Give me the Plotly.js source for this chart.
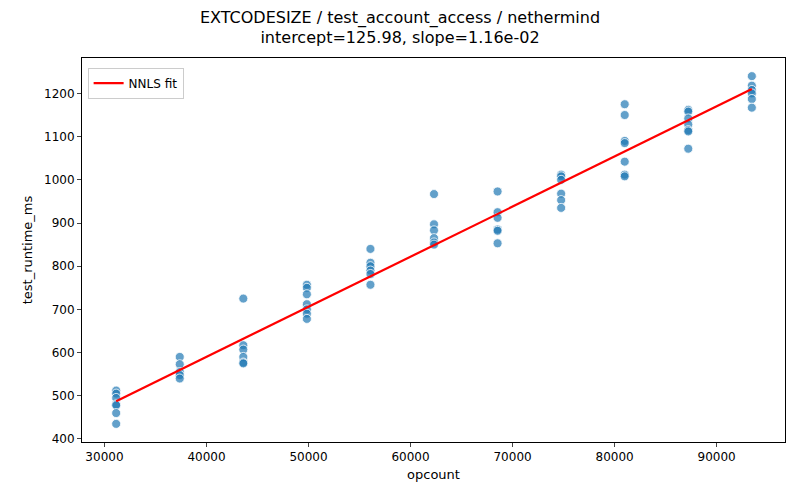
<!DOCTYPE html>
<html>
<head>
<script src="https://cdn.plot.ly/plotly-3.0.1.min.js"></script>
<style>body{margin:0}</style>
</head>
<body>
<div id="chart" style="width:800px;height:500px"></div>
<script>
// opcount groups and the measured runtimes at each
const opcounts = [31150, 37380, 43610, 49840, 56070, 62300, 68530, 74760, 80990, 87220, 93450];
const runtimes = [
  [512, 505, 495, 480, 478, 460, 435],
  [590, 573, 555, 548, 540],
  [725, 617, 607, 590, 577, 575],
  [757, 750, 735, 712, 700, 690, 678],
  [840, 808, 800, 790, 782, 757],
  [967, 897, 883, 865, 855, 850],
  [973, 925, 912, 885, 882, 853],
  [1012, 1008, 1000, 968, 953, 935],
  [1175, 1150, 1090, 1085, 1042, 1012, 1008],
  [1162, 1158, 1142, 1128, 1115, 1112, 1072],
  [1240, 1218, 1208, 1200, 1187, 1167]
];
const intercept = 125.98;
const slope = 0.0116;

let xs = [], ys = [];
opcounts.forEach(function(x, i){
  runtimes[i].forEach(function(y){ xs.push(x); ys.push(y); });
});

const xEnds = [opcounts[0], opcounts[opcounts.length - 1]];
const fitY = xEnds.map(function(x){ return intercept + slope * x; });

const data = [
  {
    x: xs, y: ys, type: 'scatter', mode: 'markers', showlegend: false,
    marker: {size: 9, color: 'rgba(31,119,180,0.7)', line: {color: 'white', width: 0.8}}
  },
  {
    x: xEnds, y: fitY, type: 'scatter', mode: 'lines', name: 'NNLS fit',
    line: {color: 'red', width: 2.2}
  }
];

const axisStyle = {
  showgrid: false, zeroline: false, showline: true, mirror: true,
  linecolor: 'black', linewidth: 1, ticks: 'outside', ticklen: 4,
  tickfont: {size: 12, color: 'black'}, tickformat: 'd'
};

const layout = {
  width: 800, height: 500,
  margin: {l: 82, r: 15, t: 58, b: 58},
  font: {family: 'DejaVu Sans', color: 'black'},
  paper_bgcolor: 'white', plot_bgcolor: 'white',
  title: {
    text: 'EXTCODESIZE / test_account_access / nethermind<br>intercept=125.98, slope=1.16e-02',
    font: {size: 16}, x: 0.5, xanchor: 'center', y: 0.955, yanchor: 'top'
  },
  xaxis: Object.assign({}, axisStyle, {
    range: [27800, 96700], tickvals: [30000, 40000, 50000, 60000, 70000, 80000, 90000],
    title: {text: 'opcount', font: {size: 13}, standoff: 6}
  }),
  yaxis: Object.assign({}, axisStyle, {
    range: [393, 1282], tickvals: [400, 500, 600, 700, 800, 900, 1000, 1100, 1200],
    title: {text: 'test_runtime_ms', font: {size: 13}, standoff: 8}
  }),
  legend: {
    x: 0.008, y: 0.975, xanchor: 'left', yanchor: 'top',
    bordercolor: '#cccccc', borderwidth: 1, bgcolor: 'white', font: {size: 12},
    tracegroupgap: 0
  }
};

Plotly.newPlot('chart', data, layout, {displayModeBar: false});
</script>
</body>
</html>
